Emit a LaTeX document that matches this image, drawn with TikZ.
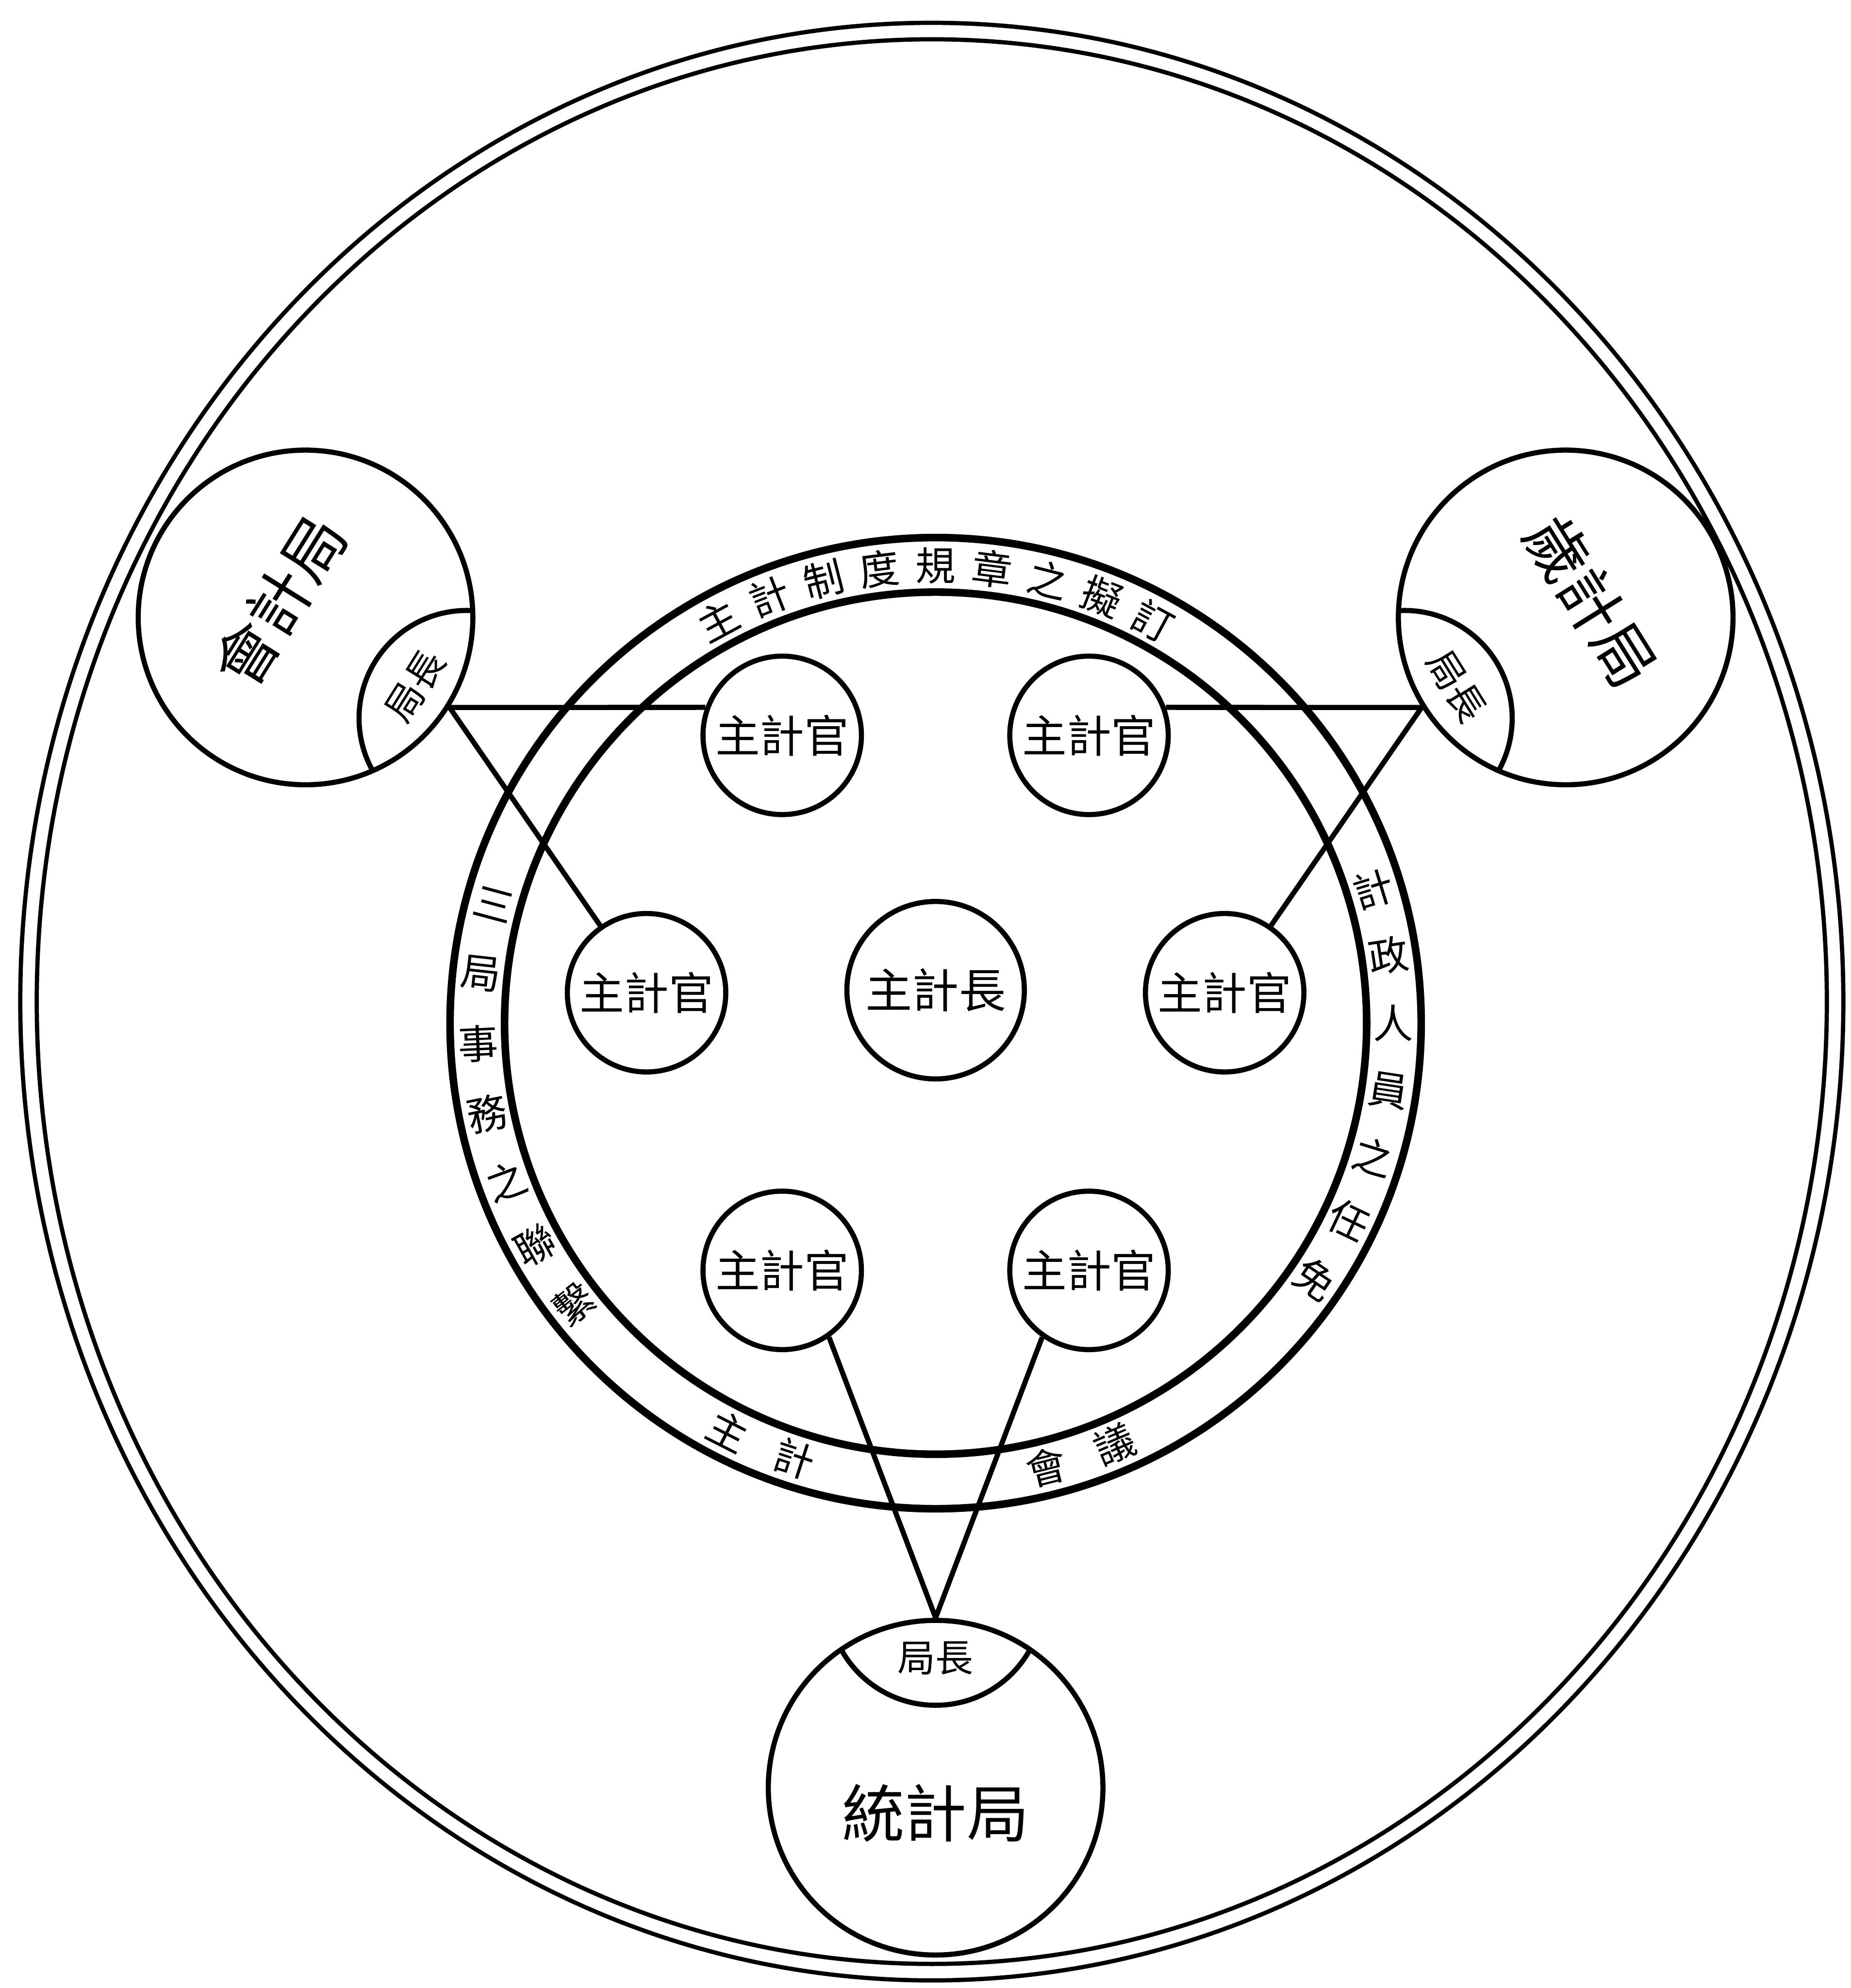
\documentclass[tikz,border=0pt]{standalone}
\usepackage{fontspec}
\usepackage{tikz}
\usetikzlibrary{calc}
\newfontfamily\cjk{Noto Sans CJK TC}

\begin{document}
\begin{tikzpicture}[x=0.02cm,y=0.02cm,
  font=\cjk,
  rim/.style={line width=1.9pt},
  band/.style={line width=3.4pt},
  guan/.style={circle,draw,line width=2.3pt,minimum size=2.5cm,inner sep=0pt,
               font=\cjk\fontsize{20}{20}\selectfont},
  zhang/.style={guan,minimum size=2.8cm,font=\cjk\fontsize{21}{21}\selectfont},
  ju/.style={circle,draw,line width=2.3pt,minimum size=5.28cm,inner sep=0pt},
  lens/.style={line width=2.3pt},
  jutxt/.style={font=\cjk\fontsize{28}{28}\selectfont,inner sep=0pt},
  lenstxt/.style={font=\cjk\fontsize{17}{17}\selectfont,inner sep=0pt},
  ringtxt/.style={font=\cjk\fontsize{18}{18}\selectfont,inner sep=0pt},
  link/.style={line width=2.3pt}]

\fill[white] (-738,-761) rectangle (722,807);
\useasboundingbox (-738,-761) rectangle (722,807);

% ---- outer double rim ----
\draw[rim] (-3,17) ellipse [x radius=719, y radius=772];
\draw[rim] (-3,17) ellipse [x radius=706, y radius=759];

% ---- ring of the directorate ----
\draw[band] (0,0) circle [radius=383];
\draw[band] (0,0) circle [radius=340];

% ---- three bureaus, each with its director lens facing the centre ----
\node[ju] (kj) at (-497,320) {};
\node[ju] (sj) at (497,320) {};
\node[ju] (tj) at (0,-603) {};

\begin{scope}
  \clip (kj.center) circle [radius=132];
  \draw[lens] ($(kj.center)+(-32:150)$) circle [radius=85];
\end{scope}
\begin{scope}
  \clip (sj.center) circle [radius=132];
  \draw[lens] ($(sj.center)+(212:150)$) circle [radius=85];
\end{scope}
\begin{scope}
  \clip (tj.center) circle [radius=132];
  \draw[lens] ($(tj.center)+(90:150)$) circle [radius=85];
\end{scope}

\node[jutxt,rotate=58] (kjt) at ($(kj.center)+(148:24)$) {會計局};
\node[jutxt,rotate=-58] (sjt) at ($(sj.center)+(32:24)$) {歲計局};
\node[jutxt] (tjt) at ($(tj.center)+(0,-20)$) {統計局};

\node[lenstxt,rotate=58] (kjz) at ($(kj.center)+(-32:102)$) {局長};
\node[lenstxt,rotate=-58] (sjz) at ($(sj.center)+(212:102)$) {局長};
\node[lenstxt] (tjz) at ($(tj.center)+(90:102)$) {局長};

% ---- officers inside the ring ----
\node[zhang] (zz) at (0,26) {主計長};
\node[guan] (g1) at (-121,227) {主計官};
\node[guan] (g2) at (121,227) {主計官};
\node[guan] (g3) at (-228,24) {主計官};
\node[guan] (g4) at (228,24) {主計官};
\node[guan] (g5) at (-121,-195) {主計官};
\node[guan] (g6) at (121,-195) {主計官};

% ---- each director tied to two officers ----
\draw[link] (kj.-32) -- (g1.160);
\draw[link] (kj.-32) -- (g3);
\draw[link] (sj.212) -- (g2.20);
\draw[link] (sj.212) -- (g4);
\draw[link] (tj.90) -- (g5.-55);
\draw[link] (tj.90) -- (g6.-125);

% ---- texts round the ring ----
\foreach \ch [count=\i from 0] in {主,計,制,度,規,章,之,擬,訂}{
  \pgfmathsetmacro\ang{118.4-7.1*\i}
  \node[ringtxt,rotate=\ang-90] (up\i) at (\ang:361) {\ch};
}
\foreach \ch [count=\i from 0] in {計,政,人,員,之,任,免}{
  \pgfmathsetmacro\ang{17-8.5*\i}
  \node[ringtxt,rotate=\ang] (rt\i) at (\ang:361) {\ch};
}
\foreach \ch [count=\i from 0] in {三,局,事,務,之,聯,繫}{
  \pgfmathsetmacro\ang{165+8.8*\i}
  \node[ringtxt,rotate=\ang-180] (lt\i) at (\ang:361) {\ch};
}
\foreach \ch/\ang [count=\i] in {主/243,計/252,會/284,議/293}
  \node[ringtxt,rotate=\ang+90] (dn\i) at (\ang:361) {\ch};
\end{tikzpicture}
\end{document}
